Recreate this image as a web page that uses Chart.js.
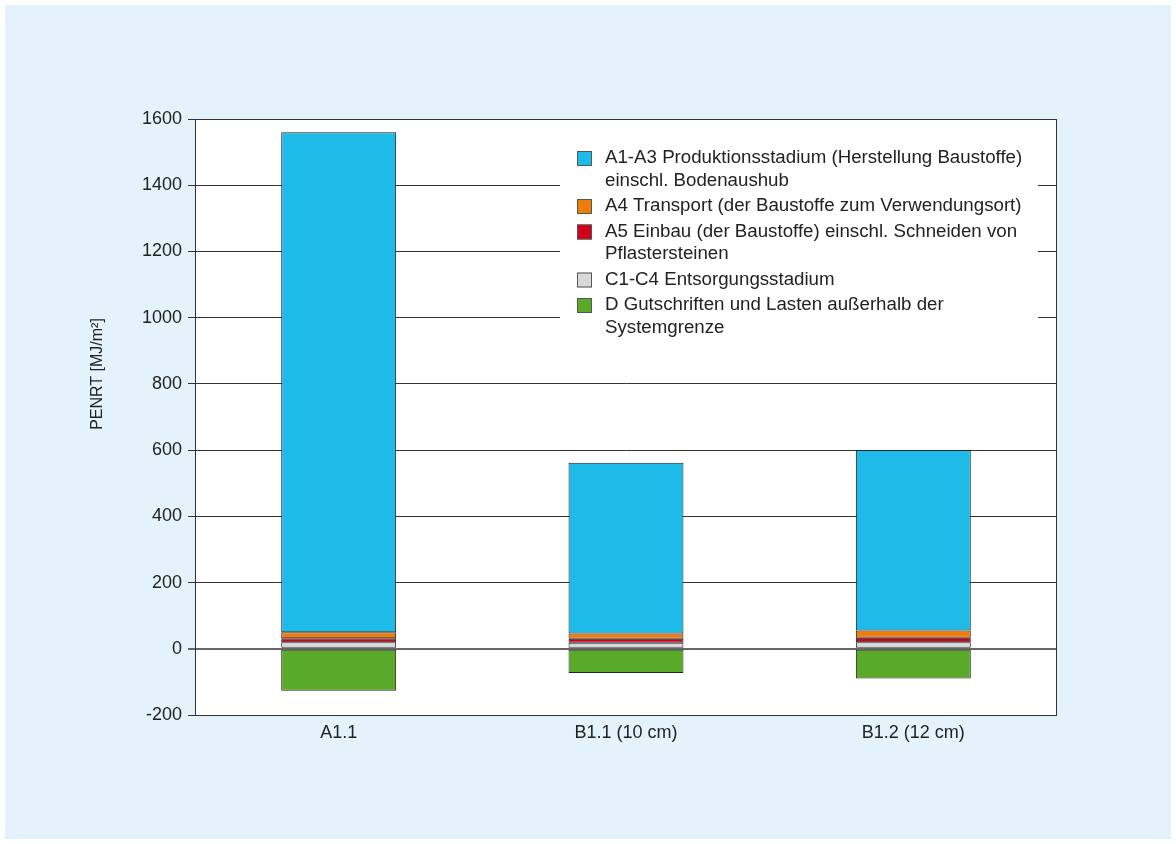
<!DOCTYPE html>
<html><head><meta charset="utf-8">
<script src="https://cdn.jsdelivr.net/npm/chart.js@4"></script>
<style>html,body{margin:0;padding:0;background:#fff;}canvas{display:block}</style>
</head><body><canvas id="c" width="1176" height="844"></canvas>
<script>
const categories = ['A1.1', 'B1.1 (10 cm)', 'B1.2 (12 cm)'];
const valuesC1C4 = [20, 18, 20];
const valuesA5 = [12, 12, 13];
const valuesA4 = [18, 16, 22];
const valuesA1A3 = [1510, 516, 545];
const valuesD = [-127, -73, -90];
const labelA1A3 = ['A1-A3 Produktionsstadium (Herstellung Baustoffe)', 'einschl. Bodenaushub'];
const labelA4 = ['A4 Transport (der Baustoffe zum Verwendungsort)'];
const labelA5 = ['A5 Einbau (der Baustoffe) einschl. Schneiden von', 'Pflastersteinen'];
const labelC1C4 = ['C1-C4 Entsorgungsstadium'];
const labelD = ['D Gutschriften und Lasten außerhalb der', 'Systemgrenze'];
const yAxisTitle = 'PENRT [MJ/m²]';
const yMin = -200, yMax = 1600, yStep = 200;

const colBlue = '#1ebbe9', colOrange = '#ef7d0a', colRed = '#d0021b', colGray = '#d9d9d9', colGreen = '#5aaa2a';
const FONT = '"Liberation Sans", Arial, Helvetica, sans-serif';

const ds = (label, data, color) => ({
  label, data, backgroundColor: color, borderColor: '#222', borderWidth: 1,
  borderSkipped: false, barPercentage: 0.4, categoryPercentage: 1.0
});

const datasets = [
  ds(labelC1C4, valuesC1C4, colGray),
  ds(labelA5, valuesA5, colRed),
  ds(labelA4, valuesA4, colOrange),
  ds(labelA1A3, valuesA1A3, colBlue),
  ds(labelD, valuesD, colGreen)
];
const legendOrder = [3, 2, 1, 0, 4];

const decor = {
  id: 'decor',
  beforeDraw(chart) {
    const ctx = chart.ctx, a = chart.chartArea;
    ctx.save();
    ctx.fillStyle = '#fff';
    ctx.fillRect(0, 0, chart.width, chart.height);
    ctx.fillStyle = '#e4f3fb';
    ctx.fillRect(5, 5, chart.width - 10, chart.height - 10);
    ctx.fillStyle = '#fff';
    ctx.fillRect(a.left, a.top, a.right - a.left, a.bottom - a.top);
    ctx.restore();
  },
  afterDraw(chart) {
    const ctx = chart.ctx, a = chart.chartArea;
    ctx.save();
    ctx.strokeStyle = '#333';
    ctx.lineWidth = 1;
    ctx.strokeRect(Math.round(a.left) + 0.5, Math.round(a.top) + 0.5, Math.round(a.right - a.left) - 1, Math.round(a.bottom - a.top));
    ctx.fillStyle = '#222';
    ctx.font = '16px ' + FONT;
    ctx.textAlign = 'center';
    ctx.textBaseline = 'middle';
    ctx.translate(98, 374);
    ctx.rotate(-Math.PI / 2);
    ctx.fillText(yAxisTitle, 0, 0);
    ctx.restore();

    ctx.save();
    ctx.fillStyle = '#fff';
    ctx.fillRect(560, 128, 478, 222);
    ctx.font = '18.7px ' + FONT;
    ctx.textAlign = 'left';
    ctx.textBaseline = 'middle';
    let y = 158;
    legendOrder.forEach((idx) => {
      const d = chart.data.datasets[idx];
      ctx.fillStyle = d.backgroundColor;
      ctx.fillRect(577, y - 7, 15, 15);
      ctx.strokeStyle = '#555';
      ctx.lineWidth = 1;
      ctx.strokeRect(577.5, y - 6.5, 14, 14);
      ctx.fillStyle = '#222';
      d.label.forEach((line, i) => {
        ctx.fillText(line, 605, y + i * 22.5);
      });
      y += (d.label.length - 1) * 22.5 + 25.5;
    });
    ctx.restore();
  }
};

new Chart(document.getElementById('c'), {
  type: 'bar',
  data: { labels: categories, datasets },
  options: {
    responsive: false,
    animation: false,
    devicePixelRatio: 1,
    layout: { padding: { left: 0, top: 119, right: 119, bottom: 0 } },
    plugins: { legend: { display: false }, tooltip: { enabled: false } },
    scales: {
      x: {
        stacked: true,
        grid: { display: false, drawTicks: false },
        border: { display: false },
        ticks: { color: '#222', font: { size: 18, family: FONT }, padding: 7 },
        afterFit(s) { s.height = 129; }
      },
      y: {
        stacked: true,
        min: yMin, max: yMax,
        ticks: { stepSize: yStep, color: '#222', font: { size: 18, family: FONT }, padding: 6,
                 callback: v => String(v) },
        grid: {
          color: c => c.tick && c.tick.value === 0 ? '#666' : '#333',
          lineWidth: c => c.tick && c.tick.value === 0 ? 2 : 1,
          tickLength: 7
        },
        border: { color: '#333' },
        afterFit(s) { s.width = 195; }
      }
    }
  },
  plugins: [decor]
});
</script>
</body></html>
